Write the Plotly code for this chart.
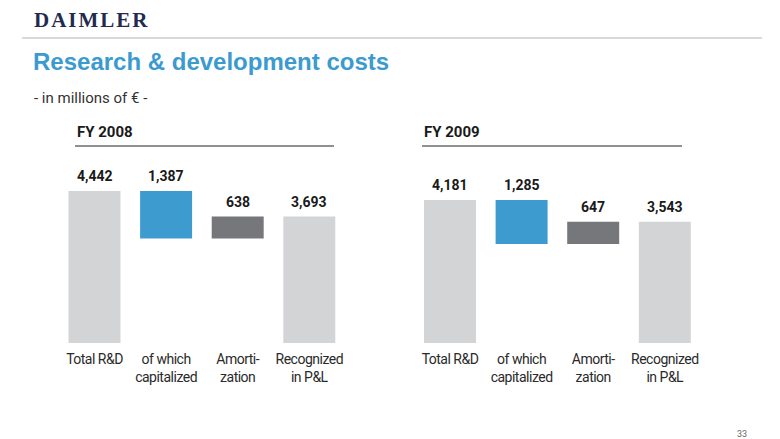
import plotly.graph_objects as go

categories = ["Total R&D", "of which<br>capitalized", "Amorti-<br>zation", "Recognized<br>in P&L"]
fy2008 = [4442, 1387, 638, 3693]
fy2009 = [4181, 1285, 647, 3543]
value_labels_2008 = ["4,442", "1,387", "638", "3,693"]
value_labels_2009 = ["4,181", "1,285", "647", "3,543"]
panel_titles = ["FY 2008", "FY 2009"]
bar_colors = ["#d3d4d6", "#3d9bcf", "#76777a", "#d3d4d6"]

W, H = 780, 439


def px_x(p):
    return p / W


def px_y(p):
    return 1 - p / H


def bases(v):
    total, cap, amort, rec = v
    return [0, total - cap, total - cap, 0]


def tops(v):
    b = bases(v)
    return [b[i] + v[i] for i in range(4)]


def narrow(label):
    return "<br>".join('<span style="letter-spacing:-0.5px">%s</span>' % part
                       for part in label.split("<br>"))


fig = go.Figure()
for i, (vals, labels) in enumerate([(fy2008, value_labels_2008), (fy2009, value_labels_2009)]):
    xa = "x" if i == 0 else "x2"
    ya = "y" if i == 0 else "y2"
    fig.add_trace(go.Bar(
        x=categories, y=vals, base=bases(vals),
        marker=dict(color=bar_colors, line=dict(width=0)),
        xaxis=xa, yaxis=ya, showlegend=False, hoverinfo="skip",
    ))
    for c, t, lab in zip(categories, tops(vals), labels):
        fig.add_annotation(
            x=c, y=t, xref=xa, yref=ya, text=lab, showarrow=False,
            yanchor="middle", yshift=15,
            font=dict(family="Roboto", size=14, color="#1a1a1a", weight="bold"),
        )

ymax = (343 - 170) * 29.22
axis_common = dict(showgrid=False, zeroline=False, showline=False, ticks="",
                   ticklabelstandoff=6,
                   tickmode="array", tickvals=categories,
                   ticktext=[narrow(c) for c in categories],
                   tickfont=dict(family="Roboto", size=14, color="#2a2a2a"))
fig.update_layout(
    width=W, height=H, margin=dict(l=0, r=0, t=0, b=0),
    paper_bgcolor="white", plot_bgcolor="white",
    bargap=0.274,
    xaxis=dict(domain=[px_x(58.7), px_x(345.1)], range=[-0.5, 3.5], **axis_common),
    xaxis2=dict(domain=[px_x(414.2), px_x(700.6)], range=[-0.5, 3.5], **axis_common),
    yaxis=dict(domain=[px_y(343), px_y(170)], range=[0, ymax], visible=False),
    yaxis2=dict(domain=[px_y(343), px_y(170)], range=[0, ymax], visible=False, anchor="x2"),
)
fig.update_layout(xaxis2_anchor="y2")

# Header
fig.add_annotation(x=px_x(32), y=px_y(20), xref="paper", yref="paper",
                   text='<span style="letter-spacing:2px">DAIMLER</span>',
                   showarrow=False, xanchor="left", yanchor="middle",
                   font=dict(family="Liberation Serif", size=21, color="#1f2b50", weight="bold"))
fig.add_shape(type="line", xref="paper", yref="paper", x0=px_x(22), x1=px_x(762),
              y0=px_y(38), y1=px_y(38), line=dict(color="#d9d9d9", width=2))
fig.add_annotation(x=px_x(31), y=px_y(62), xref="paper", yref="paper",
                   text="Research & development costs", showarrow=False,
                   xanchor="left", yanchor="middle",
                   font=dict(family="Liberation Sans", size=24, color="#3b9ad0", weight="bold"))
fig.add_annotation(x=px_x(32), y=px_y(98), xref="paper", yref="paper",
                   text="- in millions of € -", showarrow=False,
                   xanchor="left", yanchor="middle",
                   font=dict(family="Roboto", size=15, color="#333333"))

# Panel titles and rules
for (x0, x1), t in zip([(75, 334), (422, 682)], panel_titles):
    fig.add_annotation(x=px_x(x0), y=px_y(132), xref="paper", yref="paper", text=t,
                       showarrow=False, xanchor="left", yanchor="middle",
                       font=dict(family="Roboto", size=15, color="#1a1a1a", weight="bold"))
    fig.add_shape(type="line", xref="paper", yref="paper", x0=px_x(x0), x1=px_x(x1),
                  y0=px_y(146), y1=px_y(146), line=dict(color="#222222", width=1))

fig.add_annotation(x=px_x(742), y=px_y(434), xref="paper", yref="paper", text="33",
                   showarrow=False, xanchor="center", yanchor="middle",
                   font=dict(family="Roboto", size=9, color="#666666"))

fig.write_html("out.html")
